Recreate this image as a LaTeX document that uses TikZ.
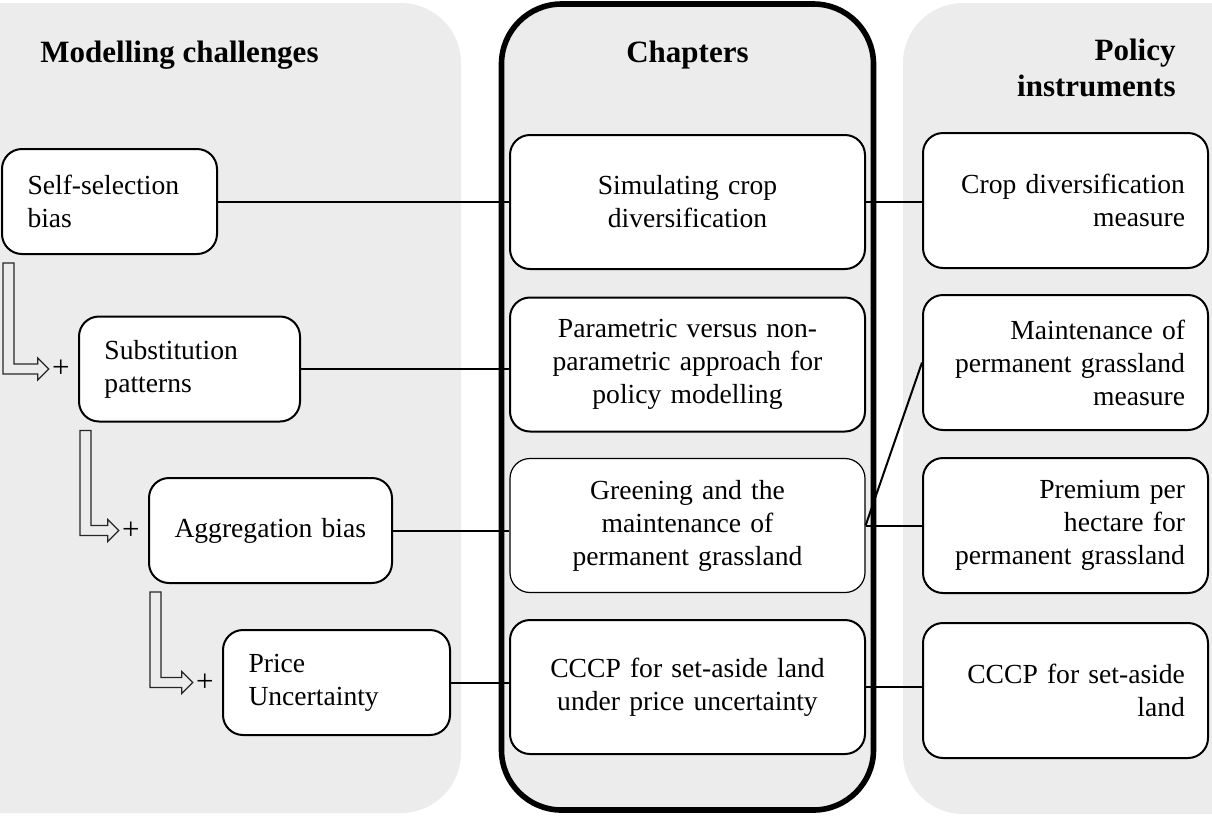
\documentclass[tikz,border=0pt]{standalone}
\usepackage{fontspec}
\setmainfont{Liberation Serif}
\usetikzlibrary{positioning,calc}
\definecolor{panelFill}{HTML}{ECECEC}
\tikzset{
  x=0.5pt, y=-0.5pt,
  panel/.style     ={fill=panelFill, rounded corners=30pt},
  chappanel/.style ={panel, draw=black, line width=2.8pt},
  heading/.style   ={font=\fontsize{15.5}{18}\selectfont\bfseries, inner sep=0pt},
  box/.style       ={draw, fill=white, rounded corners=10pt, line width=1pt,
                     font=\fontsize{13.8}{16.5}\selectfont},
  challenge/.style ={box, align=left, inner xsep=12.75pt, minimum height=52.5pt},
  chapter/.style   ={box, align=center, text width=165pt, inner xsep=6.25pt, minimum height=67pt},
  instrument/.style={box, align=right, text width=119.5pt, inner xsep=11.5pt, minimum height=67.5pt},
  plussign/.style  ={font=\fontsize{15.5}{18}\selectfont, inner xsep=1.5pt, inner ysep=0pt},
  conn/.style      ={line width=1pt},
  hollow/.style    ={draw=black!85, line width=0.6pt, line join=miter},
}
% hollow block arrow: from below a challenge box to the plus sign before the next one
\newcommand{\hollowarrow}[2]{%
  \draw[hollow] ($(#1.south west)+(2,8)$) -- ++(11,0) |- ($(#2.west)+(-11,-5)$)
    -- ++(0,-6) -- (#2.west) -- ++(-11,11) -- ++(0,-6)
    -| ($(#1.south west)+(2,8)$) -- cycle;}

\begin{document}
\begin{tikzpicture}
  \clip (0,0) rectangle (1212,816);
  % panels
  \fill[panel]     (-100,3) rectangle (461,813);
  \draw[chappanel] (501.5,4) rectangle (873.5,810);
  \fill[panel]     (903,3) rectangle (1300,814);
  \node[heading, anchor=base west]        (hmodel)  at (40,62)    {Modelling challenges};
  \node[heading, anchor=base]             (hchap)   at (687.5,62) {Chapters};
  \node[heading, align=right, anchor=east] (hpolicy) at (1176,68)  {Policy\\instruments};

  % modelling challenges
  \node[challenge, text width=82pt] (self)  at (109.5,201.5) {Self-selection\\bias};
  \node[challenge, text width=85pt] (subst) at (189.5,369)   {Substitution\\patterns};
  \node[challenge, text width=96pt] (aggr)  at (270.5,530.5) {Aggregation bias};
  \node[challenge, text width=88pt] (price) at (336.5,682.5) {Price\\Uncertainty};
  \node[plussign, left=2.5pt of subst] (plusA) {+};
  \node[plussign, left=2.5pt of aggr]  (plusB) {+};
  \node[plussign, left=2.5pt of price] (plusC) {+};

  % chapters
  \node[chapter] (ch1) at (687.5,202)   {Simulating crop\\diversification};
  \node[chapter] (ch2) at (687.5,364.5) {Parametric versus non-\\parametric approach for\\policy modelling};
  \node[chapter, line width=0.6pt] (ch3) at (687.5,525.5) {Greening and the\\maintenance of\\permanent grassland};
  \node[chapter] (ch4) at (687.5,687)   {CCCP for set-aside land\\under price uncertainty};

  % policy instruments
  \node[instrument] (pol1) at (1065.5,200.5) {Crop diversification\\measure};
  \node[instrument] (pol2) at (1065.5,362.5) {Maintenance of\\permanent grassland\\measure};
  \node[instrument] (pol3) at (1065.5,525.5) {Premium per\\hectare for\\permanent grassland};
  \node[instrument] (pol4) at (1065.5,690.5) {CCCP for set-aside\\land};

  % links
  \draw[conn] (self.east)  -- (self.east -| ch1.west);
  \draw[conn] (subst.east) -- (subst.east -| ch2.west);
  \draw[conn] (aggr.east)  -- (aggr.east -| ch3.west);
  \draw[conn] (price.east) -- (price.east -| ch4.west);
  \draw[conn] (ch1.east) -- (ch1.east -| pol1.west);
  \draw[conn] (ch3.east) -- (pol2.west);
  \draw[conn] (ch3.east) -- (ch3.east -| pol3.west);
  \draw[conn] (ch4.east) -- (ch4.east -| pol4.west);

  \hollowarrow{self}{plusA}
  \hollowarrow{subst}{plusB}
  \hollowarrow{aggr}{plusC}
\end{tikzpicture}
\end{document}
